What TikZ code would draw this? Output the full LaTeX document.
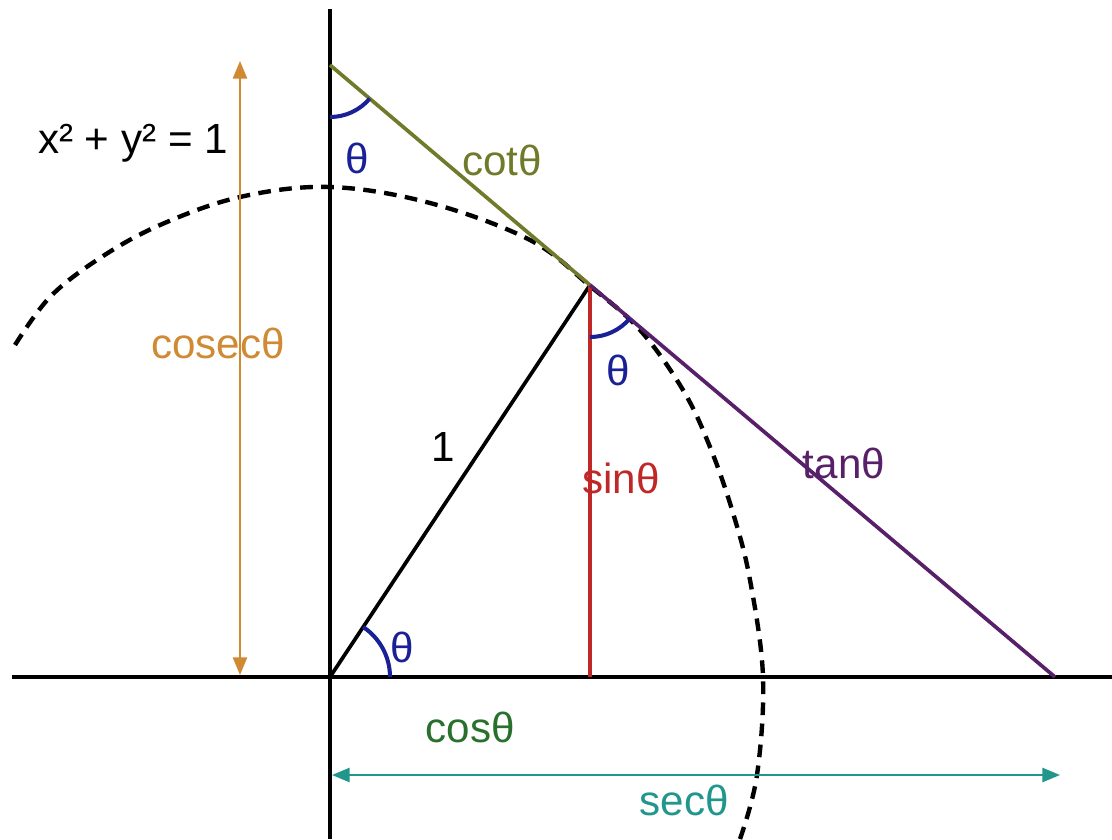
\documentclass[tikz,border=0pt]{standalone}
\usepackage{fontspec}
\setmainfont{Liberation Sans}
\usetikzlibrary{arrows.meta,positioning}

\definecolor{cosecCol}{RGB}{208,138,52}
\definecolor{cotCol}{RGB}{112,122,42}
\definecolor{tanCol}{RGB}{88,32,104}
\definecolor{sinCol}{RGB}{192,40,40}
\definecolor{cosCol}{RGB}{40,112,44}
\definecolor{secCol}{RGB}{32,150,140}
\definecolor{angCol}{RGB}{26,32,150}

\tikzset{
  axis/.style={line width=1.3pt},
  seg/.style={line width=1.05pt},
  measure/.style={line width=0.65pt, {Triangle[length=5pt,width=4pt]}-{Triangle[length=5pt,width=4pt]}},
  angarc/.style={angCol, line width=1.15pt},
  lbl/.style={inner sep=1pt, font=\fontsize{12}{14}\selectfont},
  unitcirc/.style={line width=1.25pt, dash pattern=on 3.6pt off 2.4pt},
}

\begin{document}
\begin{tikzpicture}

\useasboundingbox (0,0) rectangle (11.12,8.39);

% Key points
\coordinate (O) at (3.30, 1.62);   % origin
\coordinate (P) at (5.90, 5.54);   % point on the circle
\coordinate (F) at (5.90, 1.62);   % foot of sin
\coordinate (C) at (3.30, 7.74);   % cosec point on y axis
\coordinate (S) at (10.55, 1.62);  % sec point on x axis

% Axis ends
\coordinate (xL) at (0.12, 1.62);
\coordinate (xR) at (11.12, 1.62);
\coordinate (yB) at (3.30, 0);
\coordinate (yT) at (3.30, 8.30);

% Arrow ends
\coordinate (cscB) at (2.40, 1.64);
\coordinate (cscT) at (2.40, 7.78);
\coordinate (secL) at (3.32, 0.64);
\coordinate (secR) at (10.60, 0.64);

% Unit circle (dashed)
\draw[unitcirc] plot[smooth, tension=0.6] coordinates {
  (0.15,4.94) (0.50,5.42) (1.00,5.81) (1.60,6.14) (2.40,6.42) (3.30,6.52)
  (4.30,6.36) (5.30,5.99) (5.90,5.53) (6.40,5.09) (6.83,4.49) (7.10,3.92)
  (7.33,3.26) (7.50,2.59) (7.63,1.62) (7.57,0.64) (7.40,0.00)};

% Axes
\draw[axis] (xL) -- (xR);
\draw[axis] (yB) -- (yT);

% Segments
\draw[seg] (O) -- (P);
\draw[seg, sinCol] (P) -- (F);
\draw[seg, cotCol] (C) -- (P);
\draw[seg, tanCol] (P) -- (S);

% Measure arrows
\draw[measure, cosecCol] (cscB) -- (cscT);
\draw[measure, secCol] (secL) -- (secR);

% Angle arcs
\draw[angarc] ([shift={(0:0.60)}]O) arc[start angle=0, end angle=56.4, radius=0.60];
\draw[angarc] ([shift={(-90:0.52)}]C) arc[start angle=-90, end angle=-40.2, radius=0.52];
\draw[angarc] ([shift={(-90:0.52)}]P) arc[start angle=-90, end angle=-40.1, radius=0.52];

% Labels
\node[lbl] (eq) at (1.33, 6.96) {x² + y² = 1};
\node[lbl, angCol] (thC) at (3.57, 6.81) {θ};
\node[lbl, cotCol] (cot) at (5.02, 6.79) {cotθ};
\node[lbl, cosecCol] (cosec) at (2.18, 4.96) {cosecθ};
\node[lbl, angCol] (thP) at (6.18, 4.69) {θ};
\node[lbl] (one) at (4.43, 3.92) {1};
\node[lbl, sinCol] (sin) at (6.21, 3.61) {sinθ};
\node[lbl, tanCol] (tan) at (8.44, 3.76) {tanθ};
\node[lbl, angCol] (thO) at (4.02, 1.92) {θ};
\node[lbl, cosCol] (cos) at (4.70, 1.12) {cosθ};
\node[lbl, secCol] (sec) at (6.84, 0.39) {secθ};

\end{tikzpicture}
\end{document}
